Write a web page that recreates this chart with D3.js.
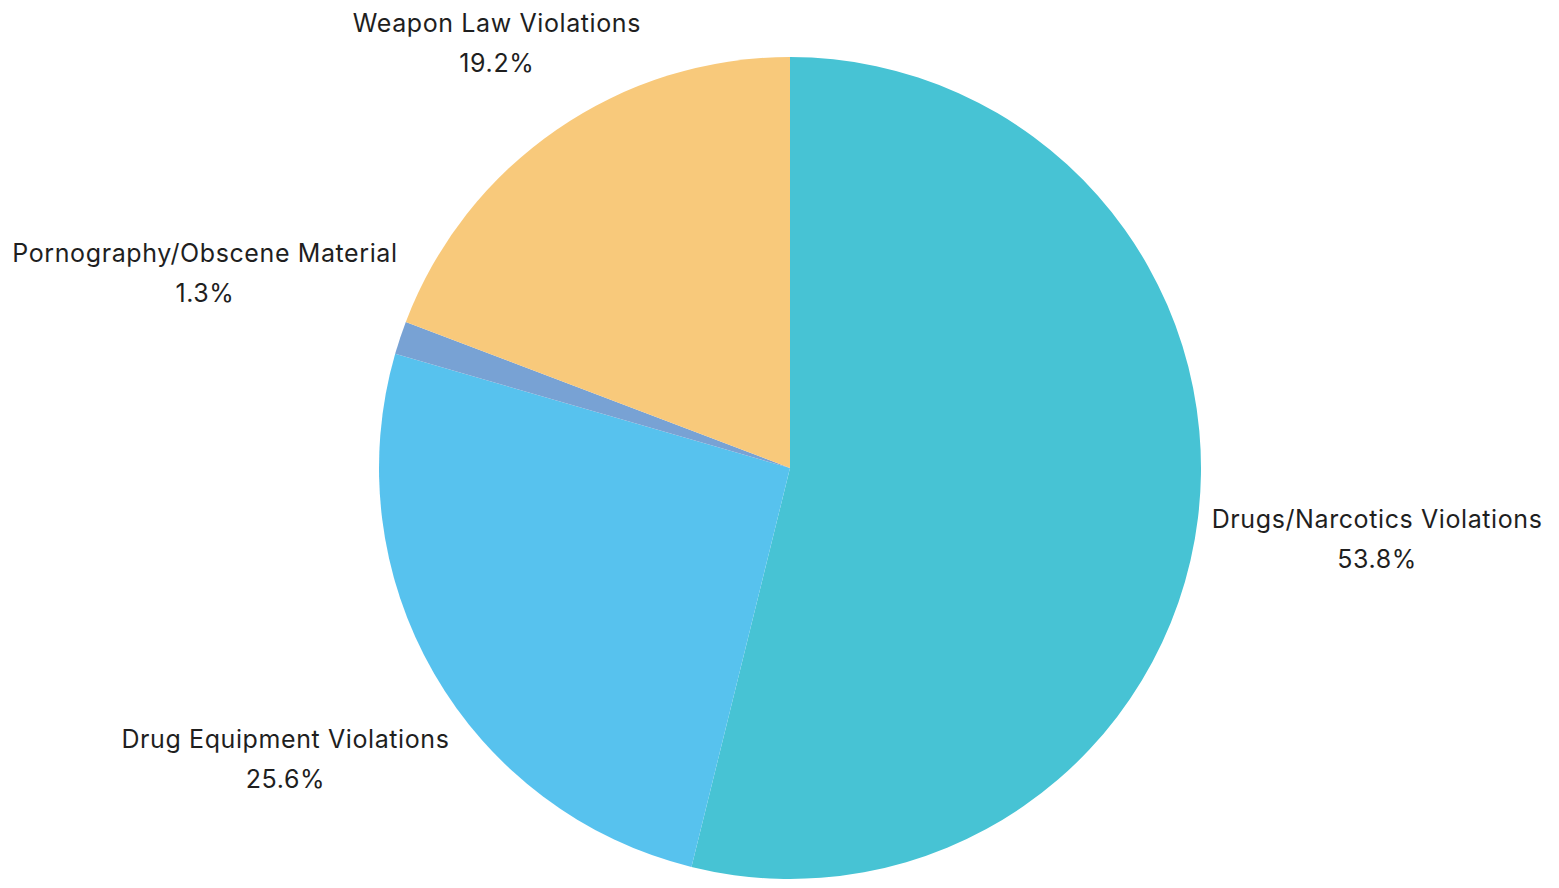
<!DOCTYPE html>
<html>
<head>
<meta charset="utf-8">
<script src="https://cdn.jsdelivr.net/npm/d3@7"></script>
<style>
  html, body { margin: 0; padding: 0; background: #ffffff; }
  svg { display: block; }
</style>
</head>
<body>
<svg id="chart" width="1559" height="888"></svg>
<script>
// Offence categories and their share of incidents (percent)
const categories = [
  "Drugs/Narcotics Violations",
  "Drug Equipment Violations",
  "Pornography/Obscene Material",
  "Weapon Law Violations"
];
const shares = [53.8, 25.6, 1.3, 19.2];
const colors = ["#47C3D4", "#57C2EE", "#78A2D4", "#F8C97B"];

const width = 1559, height = 888;
const cx = 790, cy = 468, radius = 411;
const labelGap = 12, edgeMargin = 8, lineGap = 40;
const fontFamily = "Inter, 'Open Sans', sans-serif";
const fontSize = 25;
const letterSpacing = 0.6;

const svg = d3.select("#chart");
const g = svg.append("g").attr("transform", `translate(${cx},${cy})`);

const data = categories.map((c, i) => ({ name: c, value: shares[i], color: colors[i] }));

const pie = d3.pie().sort(null).value(d => d.value);
const arc = d3.arc().innerRadius(0).outerRadius(radius);
const arcs = pie(data);

g.selectAll("path.slice")
  .data(arcs)
  .join("path")
  .attr("class", "slice")
  .attr("d", arc)
  .attr("fill", d => d.data.color);

// Labels: two-line blocks placed along each slice's mid angle, just outside the rim
const labels = g.selectAll("g.label")
  .data(arcs)
  .join("g")
  .attr("class", "label");

const lines = [
  { cls: "name", y: -lineGap / 2 + 9, text: d => d.data.name },
  { cls: "pct", y: lineGap / 2 + 9, text: d => d3.format(".1f")(d.data.value) + "%" }
];

lines.forEach(l => {
  labels.append("text")
    .attr("class", l.cls)
    .attr("text-anchor", "middle")
    .attr("font-family", fontFamily)
    .attr("font-size", fontSize)
    .attr("letter-spacing", letterSpacing)
    .attr("fill", "#1f1f1f")
    .attr("y", l.y)
    .text(l.text);
});

labels.each(function (d) {
  const node = d3.select(this);
  const box = this.getBBox();
  const w = box.width, h = box.height;
  const a = (d.startAngle + d.endAngle) / 2;
  const s = Math.sin(a), c = -Math.cos(a);
  let dist = radius + labelGap + Math.abs(s) * w / 2 + Math.abs(c) * h / 2;
  let x = s * dist, y = c * dist;
  // keep the block inside the canvas, sliding it back along its ray
  const top = -cy + edgeMargin + h / 2;
  if (y < top && c < 0) {
    dist = top / c;
    x = s * dist; y = c * dist;
  }
  node.attr("transform", `translate(${x},${y})`);
});
</script>
</body>
</html>
